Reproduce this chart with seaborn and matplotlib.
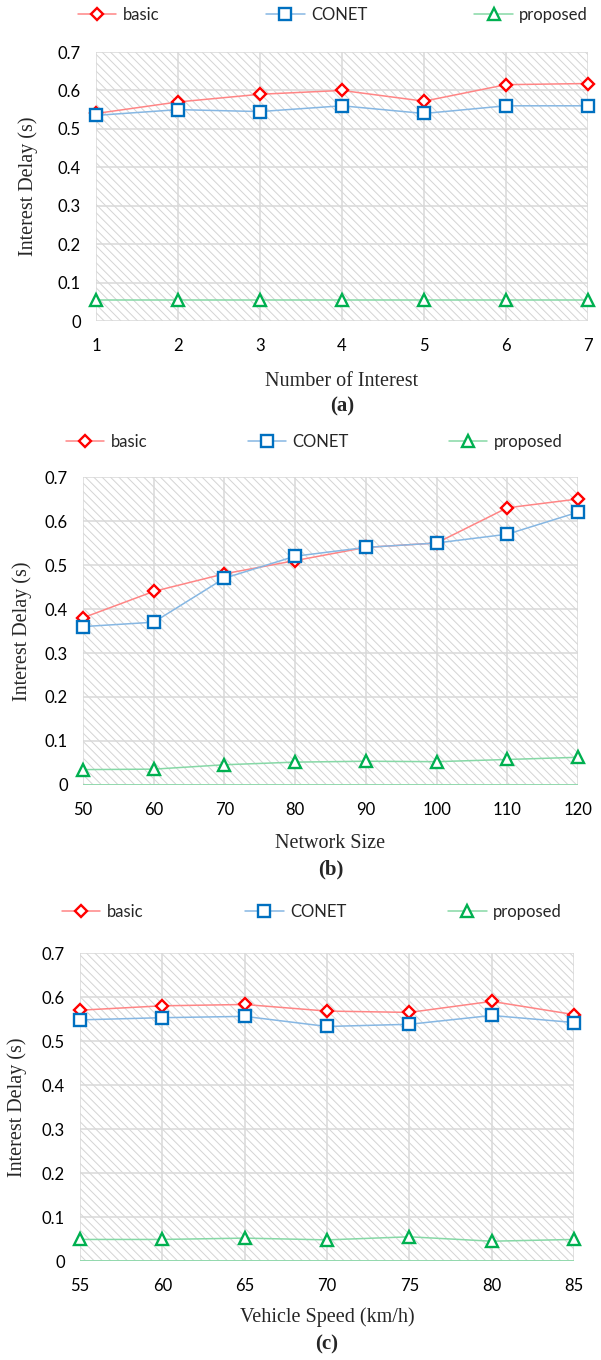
import matplotlib
matplotlib.use("Agg")
import matplotlib.pyplot as plt
from matplotlib.patches import Rectangle
from matplotlib.lines import Line2D
import seaborn as sns

# ---- data ----
series_names = ["basic", "CONET", "proposed"]

interest_x = [1, 2, 3, 4, 5, 6, 7]
interest_basic = [0.540, 0.570, 0.590, 0.600, 0.572, 0.615, 0.618]
interest_conet = [0.535, 0.550, 0.545, 0.560, 0.540, 0.560, 0.560]
interest_proposed = [0.055, 0.055, 0.055, 0.055, 0.055, 0.055, 0.055]

size_x = [50, 60, 70, 80, 90, 100, 110, 120]
size_basic = [0.380, 0.440, 0.480, 0.510, 0.540, 0.550, 0.630, 0.650]
size_conet = [0.360, 0.370, 0.470, 0.520, 0.540, 0.550, 0.570, 0.620]
size_proposed = [0.035, 0.036, 0.046, 0.052, 0.054, 0.053, 0.058, 0.063]

speed_x = [55, 60, 65, 70, 75, 80, 85]
speed_basic = [0.570, 0.580, 0.583, 0.568, 0.565, 0.590, 0.560]
speed_conet = [0.548, 0.553, 0.556, 0.533, 0.538, 0.558, 0.542]
speed_proposed = [0.049, 0.049, 0.052, 0.048, 0.055, 0.045, 0.049]

y_ticks = [0, 0.1, 0.2, 0.3, 0.4, 0.5, 0.6, 0.7]
y_ticklabels = ["0", "0.1", "0.2", "0.3", "0.4", "0.5", "0.6", "0.7"]
y_title = "Interest Delay (s)"

# ---- styling ----
sns.set_style("white")
plt.rcParams["hatch.linewidth"] = 0.7
SANS = ["Lato", "DejaVu Sans"]
SERIF = ["Liberation Serif", "DejaVu Serif"]
TICK_FS = 12

line_colors = ["#ff8585", "#86b7e3", "#86d8a6"]
edge_colors = ["#ff0000", "#0070c0", "#00b050"]
markers = ["D", "s", "^"]
msizes = [6.4, 8.6, 8.8]

W, H = 601, 1360
fig = plt.figure(figsize=(W / 100, H / 100), dpi=100)


def px_axes(left, right, top, bottom):
    return fig.add_axes([left / W, 1 - bottom / H, (right - left) / W, (bottom - top) / H])


panels = [
    dict(box=(96, 588, 52, 321), x=interest_x, ys=[interest_basic, interest_conet, interest_proposed],
         xlabel="Number of Interest", tag="(a)", xl_y=382, tag_y=406, yl_x=28,
         leg=(78, 15, 6.4), green_base=False),
    dict(box=(83, 578, 477, 785), x=size_x, ys=[size_basic, size_conet, size_proposed],
         xlabel="Network Size", tag="(b)", xl_y=843, tag_y=869, yl_x=22,
         leg=(66, 442, 6.0), green_base=True),
    dict(box=(80, 574, 953, 1261), x=speed_x, ys=[speed_basic, speed_conet, speed_proposed],
         xlabel="Vehicle Speed (km/h)", tag="(c)", xl_y=1317, tag_y=1344, yl_x=17,
         leg=(62, 912, 6.1), green_base=True),
]

for p in panels:
    l, r, t, b = p["box"]
    ax = px_axes(l, r, t, b)
    ax.set_xlim(p["x"][0], p["x"][-1])
    ax.set_ylim(0, 0.7)

    # hatched plot area
    ax.add_patch(Rectangle((0, 0), 1, 1, transform=ax.transAxes, facecolor="white",
                           edgecolor="#d4d4d4", hatch="\\\\\\\\", lw=0, zorder=0))
    ax.set_axisbelow(True)
    ax.grid(True, color="#d9d9d9", lw=1.1)

    if p["green_base"]:
        ax.axhline(0, color=line_colors[2], lw=1.2, zorder=1.5)

    for i, ys in enumerate(p["ys"]):
        sns.lineplot(x=p["x"], y=ys, ax=ax, color=line_colors[i], lw=1.1,
                     marker=markers[i], markersize=msizes[i], markerfacecolor="white",
                     markeredgecolor=edge_colors[i], markeredgewidth=1.7,
                     clip_on=False, zorder=3 + i, legend=False)

    ax.set_xticks(p["x"])
    ax.set_xticklabels([str(v) for v in p["x"]], fontfamily=SANS, fontsize=TICK_FS)
    ax.set_yticks(y_ticks)
    ax.set_yticklabels(y_ticklabels, fontfamily=SANS, fontsize=TICK_FS)
    ax.tick_params(axis="x", length=0, pad=12, colors="#000000")
    ax.tick_params(axis="y", length=0, pad=11, colors="#000000")
    for s in ax.spines.values():
        s.set_visible(False)
    ax.set_xlabel("")
    ax.set_ylabel("")

    cx = (l + r) / 2 / W
    fig.text(cx, 1 - p["xl_y"] / H, p["xlabel"], ha="center", va="center",
             fontfamily=SERIF, fontsize=14.5)
    fig.text(cx, 1 - p["tag_y"] / H, p["tag"], ha="center", va="center",
             fontfamily=SERIF, fontsize=15, fontweight="bold")
    fig.text(p["yl_x"] / W, 1 - (t + b) / 2 / H, y_title, ha="center", va="center",
             rotation=90, fontfamily=SERIF, fontsize=14.5)

    handles = [Line2D([], [], color=line_colors[i], lw=1.1, marker=markers[i],
                      markersize=msizes[i], markerfacecolor="white",
                      markeredgecolor=edge_colors[i], markeredgewidth=1.7)
               for i in range(3)]
    lx, ly, colsp = p["leg"]
    ax.legend(handles, series_names, loc="center left", ncol=3, frameon=False,
              bbox_to_anchor=(lx / W, 1 - ly / H), bbox_transform=fig.transFigure,
              borderpad=0, borderaxespad=0, handlelength=2.3, handletextpad=0.4,
              columnspacing=colsp, prop=dict(family=SANS, size=TICK_FS))

fig.savefig("out.png", dpi=100)
